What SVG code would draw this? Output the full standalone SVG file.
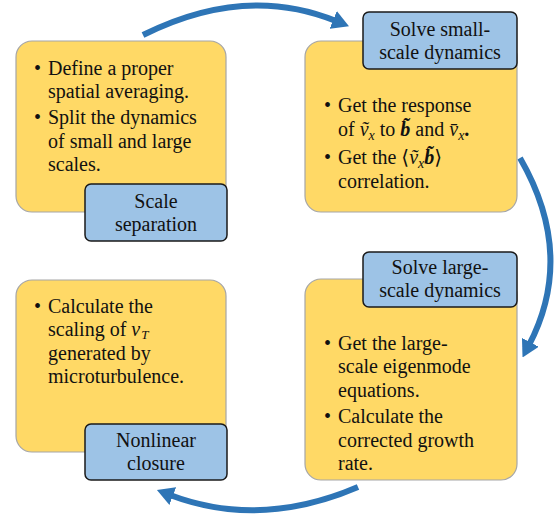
<svg xmlns="http://www.w3.org/2000/svg" width="557" height="514" viewBox="0 0 557 514">
<style>
.box{fill:#FFD966;stroke:#A6A6A6;stroke-width:1.2}
.lab{fill:#9DC3E6;stroke:#1A1A1A;stroke-width:1.5}
.t{font-size:20px;fill:#111}
.c{text-anchor:middle}
.arc{fill:none;stroke:#2E75B6;stroke-width:6}
</style>
<defs>
<marker id="ah" markerUnits="userSpaceOnUse" viewBox="0 0 17 19" refX="3" refY="9.5" markerWidth="17" markerHeight="19" orient="auto">
<path d="M0,0 L17,9.5 L0,19 z" fill="#2E75B6"/>
</marker>
</defs>
<g id="connectors">
<path class="arc" d="M143,35 Q245,-16 336,21" marker-end="url(#ah)"/>
<path class="arc" d="M520,158 Q576,255 529,345" marker-end="url(#ah)"/>
<path class="arc" d="M358,487 Q260,529 170,495" marker-end="url(#ah)"/>
</g>
<g font-family="Liberation Serif, DejaVu Serif, serif">
<g id="scale-separation">
<rect class="box" x="16" y="41" width="210" height="171" rx="16"/>
<text class="t" x="34" y="75">•</text><text class="t" x="48" y="75">Define a proper</text>
<text class="t" x="48" y="98">spatial averaging.</text>
<text class="t" x="34" y="124">•</text><text class="t" x="48" y="124">Split the dynamics</text>
<text class="t" x="48" y="148">of small and large</text>
<text class="t" x="48" y="171">scales.</text>
<rect class="lab" x="85" y="184" width="142" height="57" rx="6"/>
<text class="t c" x="156" y="208">Scale</text>
<text class="t c" x="156" y="231">separation</text>
</g>
<g id="small-scale">
<rect class="box" x="305" y="41" width="212" height="171" rx="16"/>
<rect class="lab" x="363" y="12" width="154" height="57" rx="6"/>
<text class="t c" x="440" y="36">Solve small-</text>
<text class="t c" x="440" y="59">scale dynamics</text>
<text class="t" x="324" y="112">•</text><text class="t" x="338" y="112">Get the response</text>
<text class="t" x="338" y="136">of <tspan font-style="italic">v&#x303;</tspan><tspan font-style="italic" font-size="14" dy="4">x</tspan><tspan dy="-4"> to </tspan><tspan font-style="italic" font-weight="bold">b&#x303;</tspan> and <tspan font-style="italic">v&#x304;</tspan><tspan font-style="italic" font-size="14" dy="4">x</tspan><tspan dy="-4" font-weight="bold">.</tspan></text>
<text class="t" x="324" y="164">•</text><text class="t" x="338" y="164">Get the ⟨<tspan font-style="italic">v&#x303;</tspan><tspan font-style="italic" font-size="14" dy="4">x</tspan><tspan dy="-4" font-style="italic" font-weight="bold">b&#x303;</tspan>⟩</text>
<text class="t" x="338" y="188">correlation.</text>
</g>
<g id="large-scale">
<rect class="box" x="305" y="279" width="212" height="201" rx="16"/>
<rect class="lab" x="363" y="252" width="154" height="55" rx="6"/>
<text class="t c" x="440" y="274">Solve large-</text>
<text class="t c" x="440" y="297">scale dynamics</text>
<text class="t" x="324" y="350">•</text><text class="t" x="338" y="350">Get the large-</text>
<text class="t" x="338" y="373">scale eigenmode</text>
<text class="t" x="338" y="397">equations.</text>
<text class="t" x="324" y="423">•</text><text class="t" x="338" y="423">Calculate the</text>
<text class="t" x="338" y="447">corrected growth</text>
<text class="t" x="338" y="470">rate.</text>
</g>
<g id="nonlinear-closure">
<rect class="box" x="16" y="280" width="210" height="172" rx="16"/>
<text class="t" x="34" y="313">•</text><text class="t" x="48" y="313">Calculate the</text>
<text class="t" x="48" y="336">scaling of  <tspan font-style="italic">ν</tspan><tspan font-style="italic" font-size="13" dx="1" dy="3">T</tspan></text>
<text class="t" x="48" y="360">generated by</text>
<text class="t" x="48" y="383">microturbulence.</text>
<rect class="lab" x="85" y="424" width="142" height="56" rx="6"/>
<text class="t c" x="156" y="447">Nonlinear</text>
<text class="t c" x="156" y="470">closure</text>
</g>
</g>
</svg>
